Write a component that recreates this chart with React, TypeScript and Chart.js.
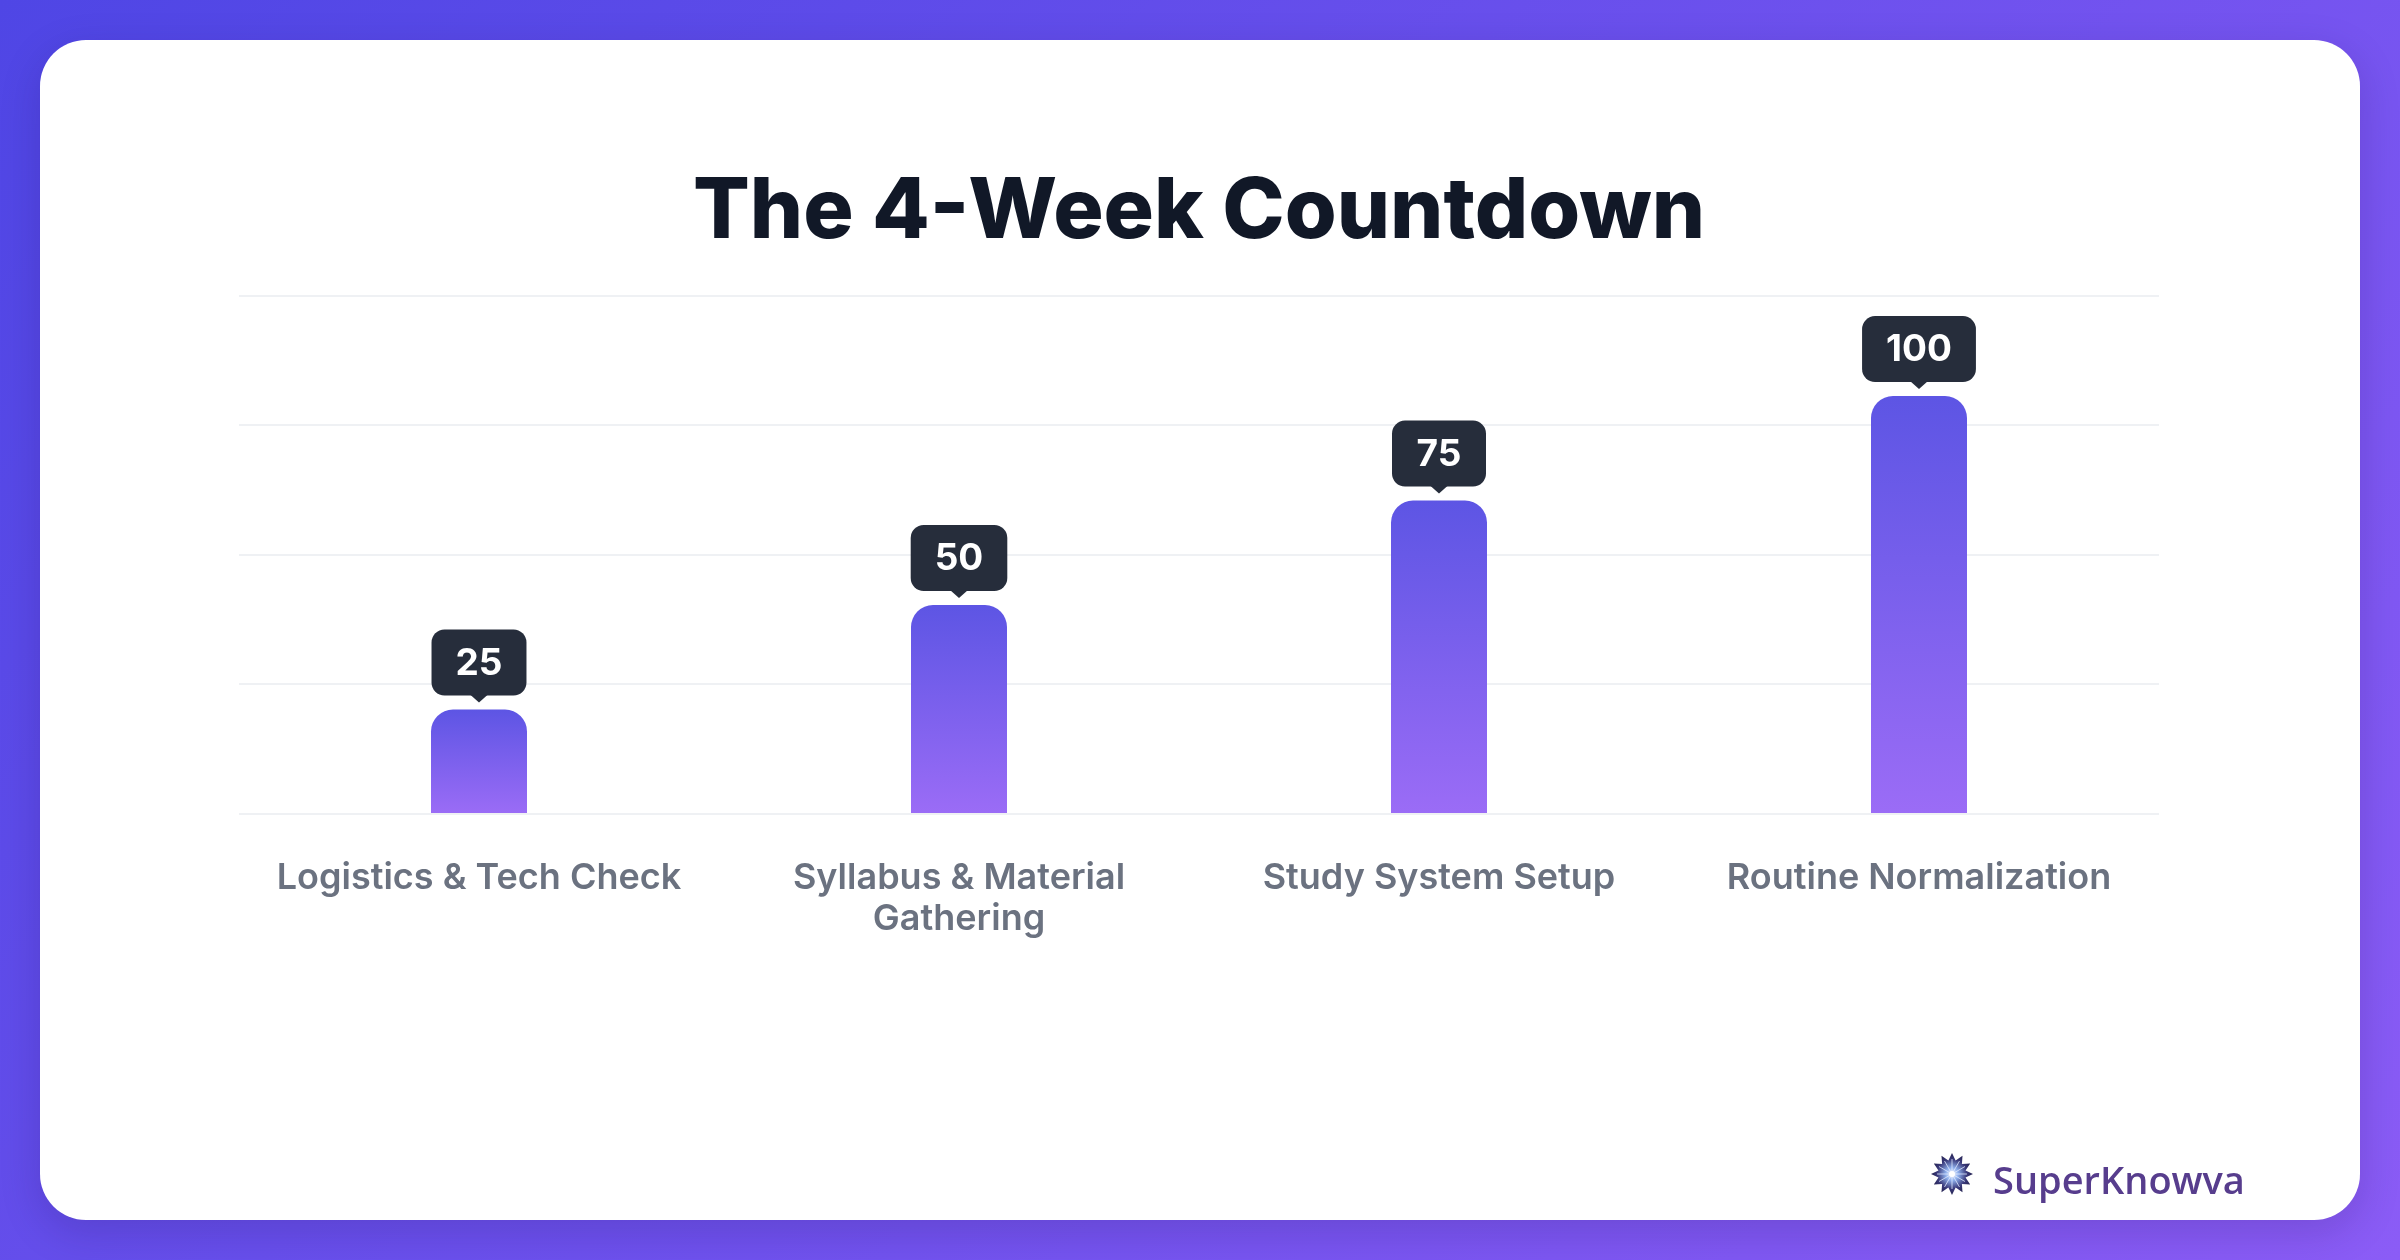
import React, { useEffect, useRef } from "react";
import { Chart, registerables } from "chart.js";

Chart.register(...registerables);

const titleText = "The 4-Week Countdown";
const categories: (string | string[])[] = [
  "Logistics & Tech Check",
  ["Syllabus & Material", "Gathering"],
  "Study System Setup",
  "Routine Normalization",
];
const values = [25, 50, 75, 100];
const yMax = 124;
const yStep = 31;
const brandName = "SuperKnowva";

const valueBadges = {
  id: "valueBadges",
  afterDatasetsDraw(chart: any) {
    const ctx = chart.ctx as CanvasRenderingContext2D;
    const meta = chart.getDatasetMeta(0);
    const data = chart.data.datasets[0].data as number[];
    meta.data.forEach((bar: any, i: number) => {
      const text = String(data[i]);
      ctx.save();
      ctx.font = "700 37px Inter";
      const tw = ctx.measureText(text).width;
      const w = Math.max(tw + 48, 94);
      const h = 66;
      const x = bar.x;
      const top = bar.y;
      const bottom = top - 14;
      const y0 = bottom - h;
      ctx.fillStyle = "#262d3b";
      ctx.beginPath();
      (ctx as any).roundRect(x - w / 2, y0, w, h, 13);
      ctx.fill();
      ctx.beginPath();
      ctx.moveTo(x - 9, bottom - 1);
      ctx.lineTo(x, top - 7);
      ctx.lineTo(x + 9, bottom - 1);
      ctx.closePath();
      ctx.fill();
      ctx.fillStyle = "#ffffff";
      ctx.textAlign = "center";
      ctx.textBaseline = "middle";
      ctx.fillText(text, x, y0 + h / 2 + 1);
      ctx.restore();
    });
  },
};

function barGradient(c: any) {
  const chart = c.chart;
  if (!chart.chartArea || c.raw === undefined) return "#7a62ee";
  const y = chart.scales.y;
  const top = y.getPixelForValue(c.raw);
  const bottom = y.getPixelForValue(0);
  const g = chart.ctx.createLinearGradient(0, top, 0, bottom);
  g.addColorStop(0, "#5d55e4");
  g.addColorStop(1, "#9b6cf6");
  return g;
}

function Star() {
  const pts: string[] = [];
  const n = 12;
  for (let i = 0; i < n * 2; i++) {
    const r = i % 2 === 0 ? 21 : 14;
    const a = (Math.PI * i) / n - Math.PI / 2;
    pts.push(`${(24 + r * Math.cos(a)).toFixed(2)},${(24 + r * Math.sin(a)).toFixed(2)}`);
  }
  const rays: any[] = [];
  for (let i = 0; i < 12; i++) {
    const a = (Math.PI * 2 * i) / 12;
    rays.push(
      <line
        key={i}
        x1={24}
        y1={24}
        x2={24 + 15 * Math.cos(a)}
        y2={24 + 15 * Math.sin(a)}
        stroke="#dfe8ff"
        strokeWidth={1}
        opacity={0.8}
      />
    );
  }
  return (
    <svg width={48} height={48} viewBox="0 0 48 48">
      <defs>
        <radialGradient id="sg" cx="50%" cy="50%" r="50%">
          <stop offset="0%" stopColor="#ffffff" />
          <stop offset="30%" stopColor="#8fb0ec" />
          <stop offset="70%" stopColor="#3a3a7a" />
          <stop offset="100%" stopColor="#24224f" />
        </radialGradient>
      </defs>
      <polygon points={pts.join(" ")} fill="url(#sg)" />
      {rays}
      <circle cx={24} cy={24} r={3} fill="#ffffff" />
    </svg>
  );
}

export default function App() {
  const ref = useRef<HTMLCanvasElement | null>(null);

  useEffect(() => {
    if (!ref.current) return;
    const chart = new Chart(ref.current, {
      type: "bar",
      data: {
        labels: categories,
        datasets: [
          {
            data: values,
            backgroundColor: barGradient,
            borderRadius: 22,
            borderSkipped: "start",
            barPercentage: 0.2,
            categoryPercentage: 1.0,
          },
        ],
      },
      options: {
        responsive: false,
        animation: false,
        layout: { padding: { left: 199, right: 201, top: 0, bottom: 256 } },
        plugins: {
          legend: { display: false },
          tooltip: { enabled: false },
          title: {
            display: true,
            text: titleText,
            color: "#111827",
            font: { family: "Inter", size: 84, weight: "800", lineHeight: 1.2 },
            padding: { top: 122, bottom: 33 },
          },
        },
        scales: {
          x: {
            grid: { display: false, drawTicks: false },
            border: { display: false },
            ticks: {
              color: "#6b7280",
              font: { family: "Inter", size: 36, weight: "600", lineHeight: 1.15 },
              padding: 43,
              maxRotation: 0,
              autoSkip: false,
            },
            afterFit: (scale: any) => {
              scale.height = 150;
            },
          },
          y: {
            min: 0,
            max: yMax,
            ticks: { display: false, stepSize: yStep },
            grid: { color: "#eff1f4", lineWidth: 2, drawTicks: false },
            border: { display: false },
          },
        },
      },
      plugins: [valueBadges],
    } as any);
    return () => chart.destroy();
  }, []);

  return (
    <div
      style={{
        position: "fixed",
        left: 0,
        top: 0,
        width: 2400,
        height: 1260,
        background: "linear-gradient(135deg, #4f46e5 0%, #8b5cf6 100%)",
        overflow: "hidden",
      }}
    >
      <div
        style={{
          position: "absolute",
          left: 40,
          top: 40,
          width: 2320,
          height: 1180,
          background: "#ffffff",
          borderRadius: 46,
          boxShadow: "0 12px 40px rgba(30,10,80,0.18)",
        }}
      >
        <canvas ref={ref} width={2320} height={1180} style={{ display: "block", width: 2320, height: 1180 }} />
        <div style={{ position: "absolute", left: 1888, top: 1110 }}>
          <Star />
        </div>
        <div
          style={{
            position: "absolute",
            left: 1953,
            top: 1120,
            fontFamily: "'Open Sans', sans-serif",
            fontWeight: 600,
            fontSize: 38,
            lineHeight: "38px",
            color: "#573d8d",
            whiteSpace: "nowrap",
          }}
        >
          {brandName}
        </div>
      </div>
    </div>
  );
}
